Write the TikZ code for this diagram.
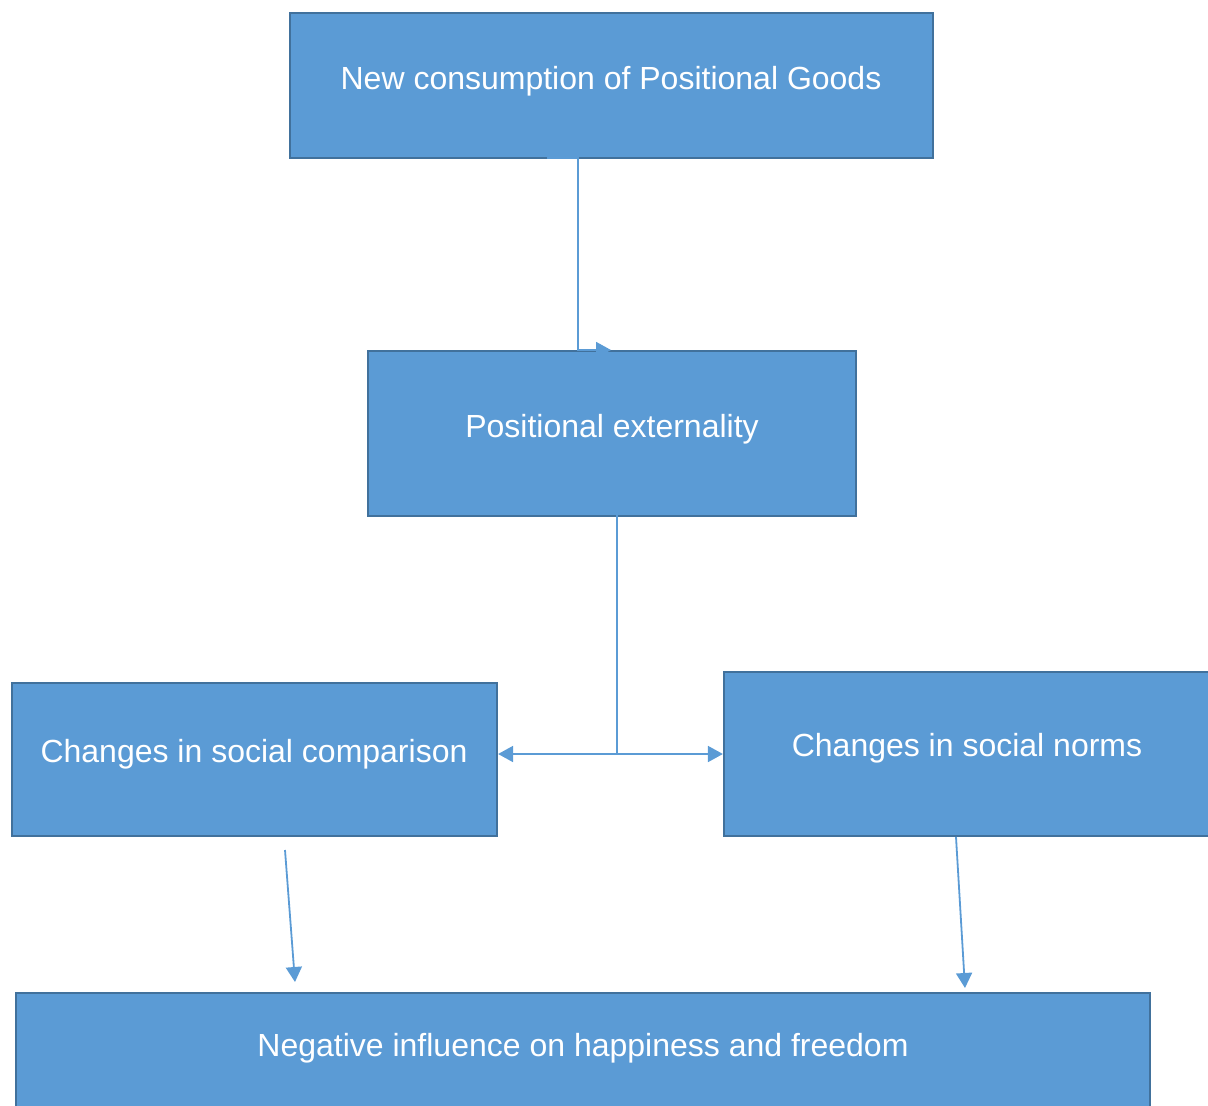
\documentclass[tikz,border=0pt]{standalone}
\usepackage{fontspec}
\setmainfont{Liberation Sans}
\usetikzlibrary{arrows.meta}
\definecolor{boxfill}{HTML}{5B9BD5}
\definecolor{boxline}{HTML}{41719C}
\begin{document}
\begin{tikzpicture}[x=1pt,y=-1pt,
  box/.style={draw=boxline,line width=2.2pt,fill=boxfill,inner sep=0pt},
  lbl/.style={text=white,font=\fontsize{32}{38}\selectfont,inner sep=0pt},
  link/.style={draw=boxfill,line width=1.8pt},
  tip/.style={-{Triangle[length=15pt,width=16pt]}}]
\useasboundingbox (0,0) rectangle (1208,1106);
\node[box,minimum width=643pt,minimum height=145pt] (goods) at (611.5,85.5) {};
\node[box,minimum width=488pt,minimum height=165pt] (extern) at (612,433.5) {};
\node[box,minimum width=485pt,minimum height=153pt] (compar) at (254.5,759.5) {};
\node[box,minimum width=486pt,minimum height=164pt] (norms) at (967,754) {};
\node[box,minimum width=1134pt,minimum height=130pt] (neg) at (583,1058) {};
\node[lbl] (goodst) at (611,81) {New consumption of Positional Goods};
\node[lbl] (externt) at (612,429) {Positional externality};
\node[lbl] (compart) at (254,754) {Changes in social comparison};
\node[lbl] (normst) at (967,748) {Changes in social norms};
\node[lbl] (negt) at (583,1048) {Negative influence on happiness and freedom};
% connectors
\coordinate (a1) at (547,158);
\coordinate (a2) at (611,350);
\coordinate (split) at (617,754);
\draw[link,tip] (a1) -- (578,158) -- (578,350) -- (a2);
\draw[link] (extern.south -| split) ++(0,-2) -- (split);
\draw[link,tip] (split) -- (compar.east |- split);
\draw[link,tip] (split) -- (norms.west |- split);
\draw[link,tip] (285,850) -- (295,982);
\draw[link,tip] (956,837) -- (965,988);
\end{tikzpicture}
\end{document}
